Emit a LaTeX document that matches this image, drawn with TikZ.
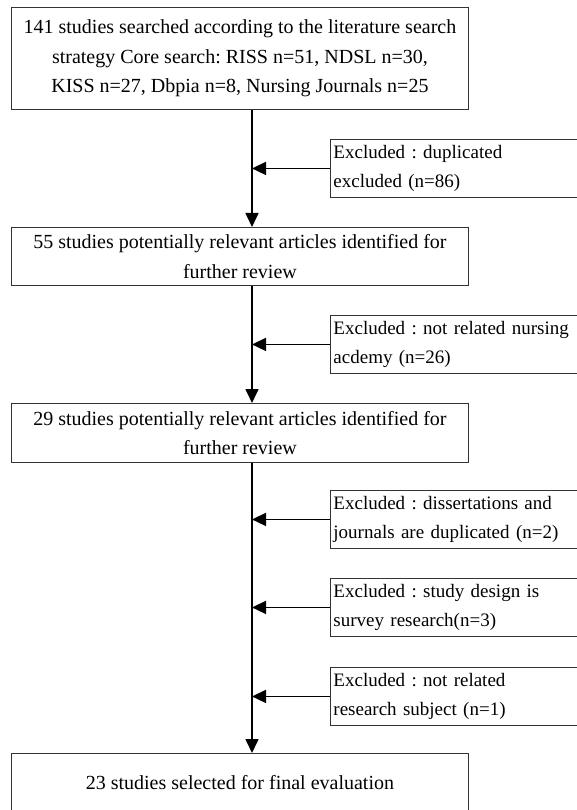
\documentclass[tikz,border=0pt]{standalone}
\usepackage{fontspec}
\setmainfont{Liberation Serif}
\usetikzlibrary{arrows.meta}
\frenchspacing

\tikzset{
  studybox/.style={draw=black!80, line width=0.9pt, minimum width=457pt, align=center, anchor=north west, inner sep=0pt},
  exclbox/.style={draw=black!80, line width=0.9pt, text width=290pt, align=left, minimum height=58pt, anchor=north west, inner xsep=3pt, inner ysep=0pt, font=\fontsize{19}{29.5}\selectfont},
  flow/.style={line width=1.6pt, -{Triangle[length=14pt,width=13pt]}}
}

\begin{document}
\begin{tikzpicture}[x=1pt, y=-1pt, font=\fontsize{20}{29.5}\selectfont]
  \useasboundingbox[fill=white] (0,0) rectangle (577,810);
  \clip (0,0) rectangle (577,810);
  \coordinate (spine) at (252,0);

  \node[studybox, minimum height=102pt] (search) at (11,7)
    {141 studies searched according to the literature search\\
     strategy Core search: RISS n=51, NDSL n=30,\\
     KISS n=27, Dbpia n=8, Nursing Journals n=25};
  \node[studybox, minimum height=58pt] (relev55) at (11,227)
    {55 studies potentially relevant articles identified for\\ further review};
  \node[studybox, minimum height=59pt] (relev29) at (11,403)
    {29 studies potentially relevant articles identified for\\ further review};
  \node[studybox, minimum height=58pt] (final) at (11,753)
    {23 studies selected for final evaluation};

  \foreach \nm/\y/\txt in {
      dupl/139/{Excluded : duplicated\\ excluded (n=86)},
      nursing/315/{Excluded : not related nursing\\ acdemy (n=26)},
      diss/490/{Excluded : dissertations and\\ journals are duplicated (n=2)},
      design/578/{Excluded : study design is\\ survey research(n=3)},
      subject/667/{Excluded : not related\\ research subject (n=1)}} {
    \node[exclbox] (\nm) at (330,\y) {\txt};
  }

  \draw[flow] (search.south -| spine) -- (relev55.north -| spine);
  \draw[flow] (relev55.south -| spine) -- (relev29.north -| spine);
  \draw[flow] (relev29.south -| spine) -- (final.north -| spine);

  \foreach \nm in {dupl,nursing,diss,design,subject}
    \draw[flow] (\nm.west) -- (\nm.west -| spine);
\end{tikzpicture}
\end{document}
